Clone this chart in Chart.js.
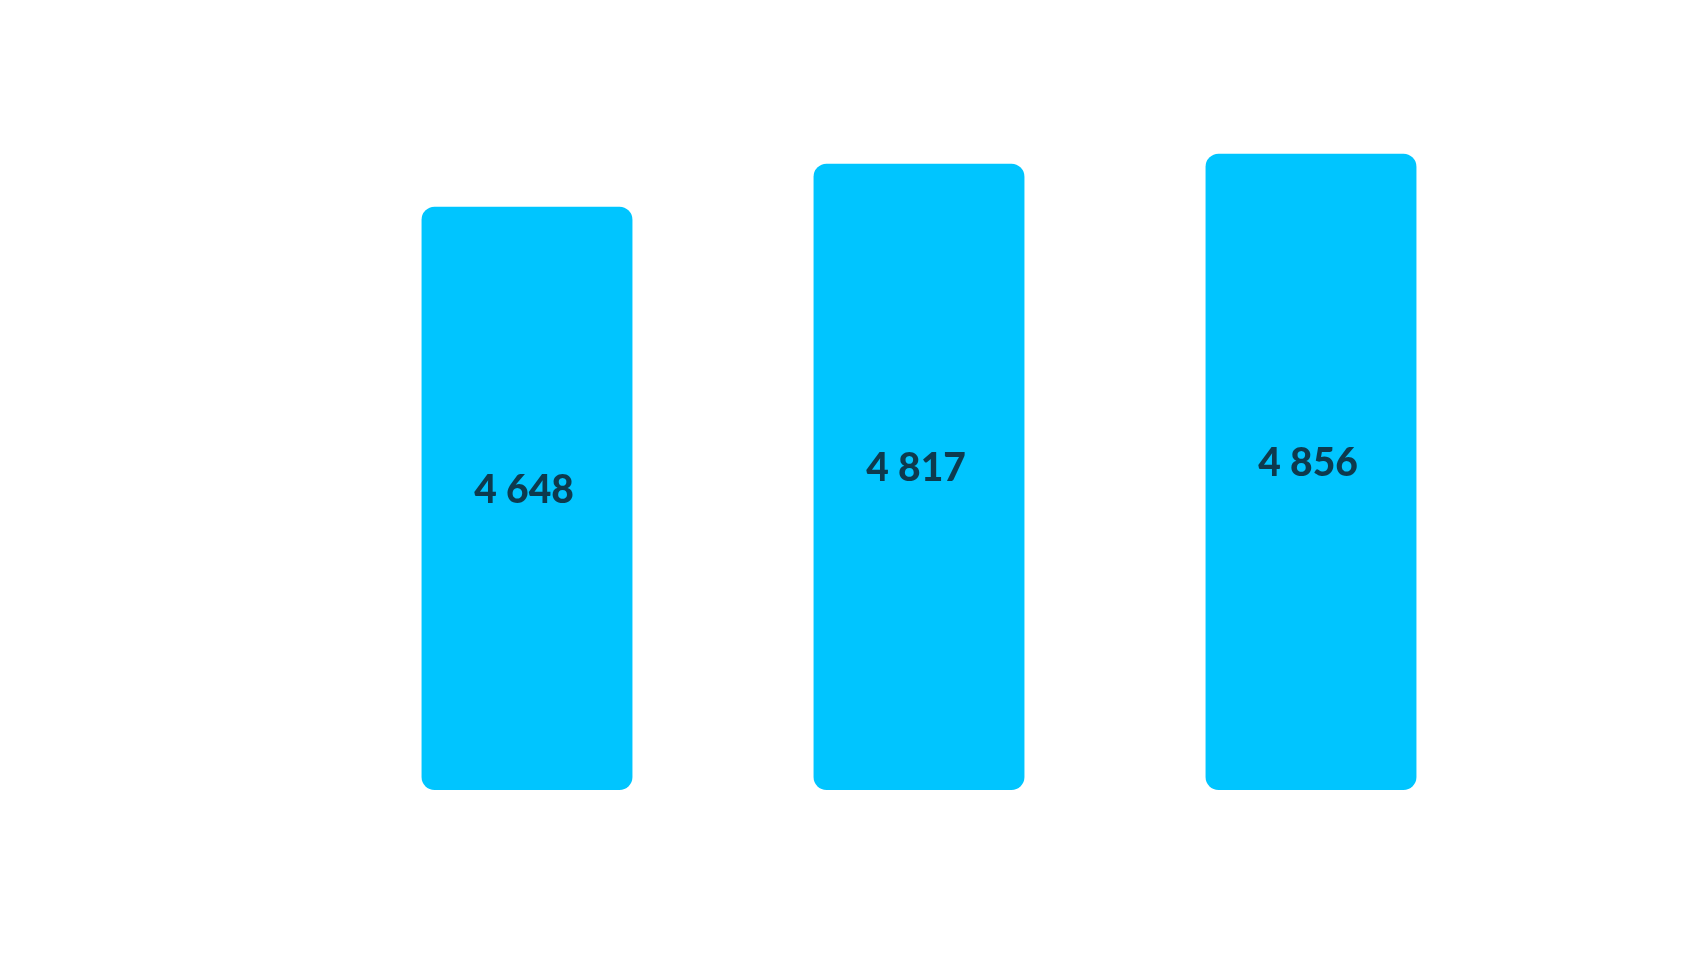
<!DOCTYPE html>
<html>
<head>
<meta charset="utf-8">
<script src="https://cdn.jsdelivr.net/npm/chart.js@4/dist/chart.umd.min.js"></script>
<style>
  html, body { margin: 0; padding: 0; background: #fff; }
  canvas { display: block; }
</style>
</head>
<body>
<canvas id="c" width="1689" height="961"></canvas>
<script>
// values
const categories = ['1', '2', '3'];
const values = [4648, 4817, 4856];
const axisMin = 2360;
const axisMax = 5000;

const fmt = v => String(v).replace(/\B(?=(\d{3})+(?!\d))/g, ' ');

// draws the value in the middle of each bar
const midLabels = {
  id: 'midLabels',
  afterDatasetsDraw(chart) {
    const ctx = chart.ctx;
    ctx.save();
    ctx.font = '900 39px Lato';
    ctx.fillStyle = '#0d3a4e';
    ctx.textAlign = 'center';
    ctx.textBaseline = 'middle';
    chart.getDatasetMeta(0).data.forEach((bar, i) => {
      ctx.fillText(fmt(values[i]), bar.x - 3, (bar.y + bar.base) / 2 - 8);
    });
    ctx.restore();
  }
};

new Chart(document.getElementById('c'), {
  type: 'bar',
  data: {
    labels: categories,
    datasets: [{
      data: values,
      base: axisMin,
      backgroundColor: '#00c5ff',
      borderRadius: 13,
      borderSkipped: false,
      categoryPercentage: 1,
      barPercentage: 0.538
    }]
  },
  options: {
    responsive: false,
    animation: false,
    devicePixelRatio: 1,
    layout: { padding: { left: 331, right: 182, top: 117, bottom: 171 } },
    plugins: { legend: { display: false }, tooltip: { enabled: false } },
    scales: {
      x: { display: false },
      y: { display: false, min: axisMin, max: axisMax }
    }
  },
  plugins: [midLabels]
});
</script>
</body>
</html>
